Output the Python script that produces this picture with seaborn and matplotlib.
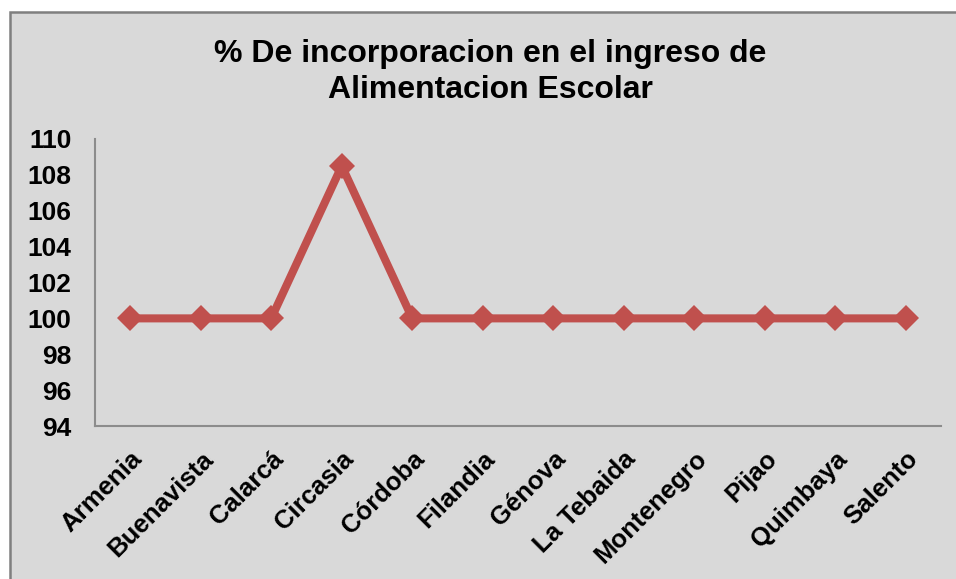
import matplotlib
matplotlib.use("Agg")
import matplotlib.pyplot as plt
import pandas as pd
import seaborn as sns
from matplotlib.patches import Rectangle

# Municipios y porcentaje de incorporacion
municipios = ["Armenia", "Buenavista", "Calarcá", "Circasia", "Córdoba", "Filandia",
              "Génova", "La Tebaida", "Montenegro", "Pijao", "Quimbaya", "Salento"]
porcentaje = [100, 100, 100, 108.5, 100, 100, 100, 100, 100, 100, 100, 100]
y_ticks = [94, 96, 98, 100, 102, 104, 106, 108, 110]

df = pd.DataFrame({"municipio": municipios, "porcentaje": porcentaje})

sns.set_style("white")
plt.rcParams["font.family"] = ["Liberation Sans", "DejaVu Sans"]
plt.rcParams["text.color"] = "black"
plt.rcParams["xtick.color"] = "black"
plt.rcParams["ytick.color"] = "black"

W, H = 956, 579
fig = plt.figure(figsize=(W / 100, H / 100), dpi=100)
fig.patch.set_facecolor("white")

# gray chart area with border (white margin at top/left)
bg = Rectangle((10 / W, -0.01), 1.02, 1 - 12 / H + 0.01, transform=fig.transFigure,
               facecolor="#D9D9D9", edgecolor="#7F7F7F", linewidth=1.8, zorder=-5)
fig.patches.append(bg)

ax = fig.add_axes([95 / W, 1 - 426 / H, (941 - 95) / W, (426 - 139) / H])
ax.set_zorder(2)
ax.patch.set_alpha(0)

sns.lineplot(data=df, x="municipio", y="porcentaje", sort=False, ax=ax,
             color="#C0504D", linewidth=5.8, marker="D", markersize=13,
             markeredgewidth=0, markerfacecolor="#C0504D")

ax.set_xlim(-0.5, len(municipios) - 0.5)
ax.set_ylim(94, 110)
ax.set_yticks(y_ticks)
ax.set_yticklabels([str(t) for t in y_ticks], fontsize=19, fontweight="bold")
ax.set_xticks(range(len(municipios)))
ax.set_xticklabels(municipios, rotation=45, ha="right", rotation_mode="anchor",
                   fontsize=18.5, fontweight="bold")
ax.tick_params(axis="both", length=0)
ax.tick_params(axis="y", pad=17)
ax.tick_params(axis="x", pad=15)
ax.set_xlabel("")
ax.set_ylabel("")

for side in ["top", "right"]:
    ax.spines[side].set_visible(False)
for side in ["left", "bottom"]:
    ax.spines[side].set_color("#8C8C8C")
    ax.spines[side].set_linewidth(1.5)

fig.text(490 / W, 1 - 72 / H, "% De incorporacion en el ingreso de\nAlimentacion Escolar",
         ha="center", va="center", fontsize=23, fontweight="bold", linespacing=1.3,
         color="black", zorder=3)

fig.savefig("out.png", dpi=100)
